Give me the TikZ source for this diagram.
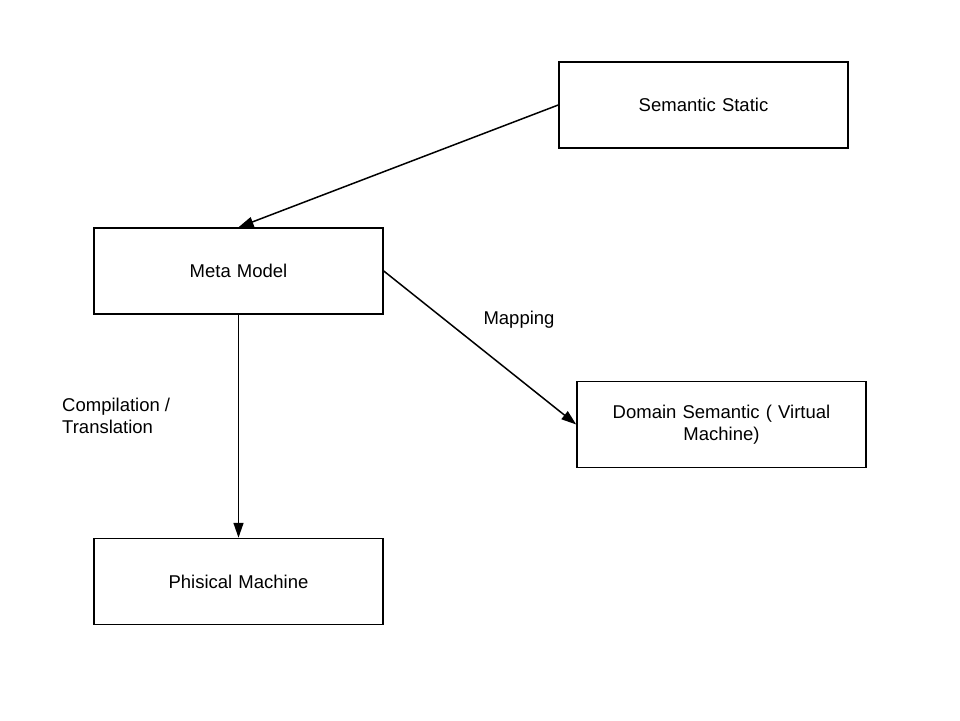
\documentclass[tikz,border=0pt]{standalone}
\usepackage{fontspec}
\setmainfont{Liberation Sans}
\usetikzlibrary{arrows.meta,positioning}

\begin{document}
\begin{tikzpicture}[
  x=1pt,
  y=-1pt,
  block/.style={
    draw,
    line width=1.5pt,
    align=center,
    inner sep=3pt,
    minimum width=289pt,
    minimum height=86pt,
    text width=260pt,
    font=\fontsize{18.5}{22}\selectfont
  },
  label/.style={font=\fontsize{18.5}{22}\selectfont, inner sep=1pt},
  arrow/.style={-{Triangle[length=15pt,width=10pt]}, line width=1.5pt}
]
\useasboundingbox (0,0) rectangle (960,720);

\node[block] (static) at (703.5,105) {Semantic Static};
\node[block] (meta) at (238.5,271) {Meta Model};
\node[block] (domain) at (721.5,424.5) {Domain Semantic ( Virtual\\Machine)};
\node[block] (machine) at (238.5,581.5) {Phisical Machine};

\node[label] (maplbl) at (519,320) {Mapping};
\node[label, align=left, anchor=west] (complbl) at (61,416) {Compilation /\\Translation};

\draw[arrow] (static.west) -- (meta.north);
\draw[arrow] (meta.east) -- (domain.west);
\draw[arrow] (meta.south) -- (machine.north);
\end{tikzpicture}
\end{document}
